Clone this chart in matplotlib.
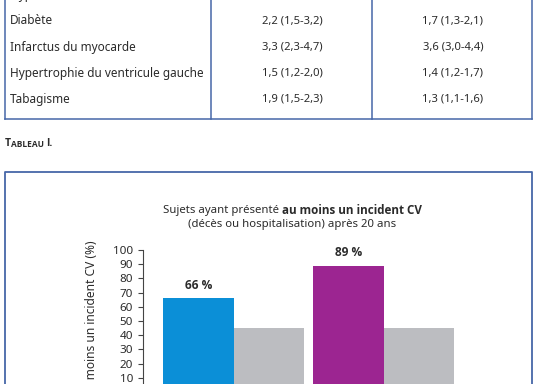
import matplotlib
matplotlib.use("Agg")
import matplotlib.pyplot as plt

plt.rcParams['font.family'] = ['Noto Sans', 'DejaVu Sans']
BOLD = ['Open Sans', 'DejaVu Sans']

W, H = 538, 384
DPI = 100
TXT = "#2b2b2b"
FRAME = "#4667a8"

# table rows (top row is cut by the page crop)
row_labels = ["Hypertension artérielle", "Diabète", "Infarctus du myocarde",
              "Hypertrophie du ventricule gauche", "Tabagisme"]
col_a = ["1,7 (1,5-2,0)", "2,2 (1,5-3,2)", "3,3 (2,3-4,7)", "1,5 (1,2-2,0)", "1,9 (1,5-2,3)"]
col_b = ["1,7 (1,5-1,9)", "1,7 (1,3-2,1)", "3,6 (3,0-4,4)", "1,4 (1,2-1,7)", "1,3 (1,1-1,6)"]

# bar chart
bar_values = [66, 45, 89, 45]
bar_labels = ["66 %", None, "89 %", None]
bar_colors = ["#0b8fd7", "#bcbdc1", "#9c2591", "#bcbdc1"]
y_ticks = [10, 20, 30, 40, 50, 60, 70, 80, 90, 100]
title_1 = ["Sujets ayant présenté ", "au moins un incident CV"]
title_2 = "(décès ou hospitalisation) après 20 ans"
y_label = "Sujets ayant présenté au moins un incident CV (%)"

fig = plt.figure(figsize=(W / DPI, H / DPI), dpi=DPI)

# page layer in pixel coords
ax0 = fig.add_axes([0, 0, 1, 1])
ax0.set_xlim(0, W)
ax0.set_ylim(H, 0)
ax0.axis("off")

# table frame
for x in [5, 211, 372, 532]:
    ax0.plot([x, x], [0, 119], color=FRAME, lw=1.1)
ax0.plot([5, 532], [119, 119], color=FRAME, lw=1.1)

for i, (lab, a, b) in enumerate(zip(row_labels, col_a, col_b)):
    y = -5 + 26 * i
    ax0.text(10, y, lab, fontsize=8.5, color=TXT, va="center", ha="left")
    ax0.text(292, y, a, fontsize=8.1, color=TXT, va="center", ha="center")
    ax0.text(453, y, b, fontsize=8.1, color=TXT, va="center", ha="center")

# caption in small caps
t1 = ax0.text(5, 146, "T", fontsize=7.5, fontweight="bold", family=BOLD,
              color=TXT, va="baseline")
t2 = ax0.annotate("ABLEAU ", xy=(1, 0), xycoords=t1, fontsize=6.0, family=BOLD,
                  fontweight="bold", color=TXT, va="bottom")
ax0.annotate("I.", xy=(1, 0), xycoords=t2, fontsize=7.5, family=BOLD,
             fontweight="bold", color=TXT, va="bottom")

# figure box
ax0.plot([5, 5, 532, 532], [400, 172, 172, 400], color=FRAME, lw=1.3)

# title with bold part, centred
renderer = fig.canvas.get_renderer()
p1 = ax0.text(0, 211, title_1[0], fontsize=8.2, color=TXT, va="center")
p2 = ax0.text(0, 211, title_1[1], fontsize=8.4, color=TXT, va="center",
              fontweight="bold", family=BOLD)
w1 = p1.get_window_extent(renderer).width
w2 = p2.get_window_extent(renderer).width
x_start = 292 - (w1 + w2) / 2
p1.set_x(x_start)
p2.set_x(x_start + w1)
ax0.text(292, 224, title_2, fontsize=8.2, color=TXT, va="center", ha="center")

ax0.text(92, 240, y_label, fontsize=8.6, color=TXT, rotation=90, ha="center", va="top")

# bar axes
left_px, right_px = 143, 532
top_px, bottom_px = 250, 392
ax = fig.add_axes([left_px / W, (H - bottom_px) / H,
                   (right_px - left_px) / W, (bottom_px - top_px) / H])
ax.patch.set_alpha(0)

unit = 70.5
positions = [0, 1, 2.13, 3.13]
ax.bar(positions, bar_values, width=1.0, color=bar_colors)
for x, v, lab in zip(positions, bar_values, bar_labels):
    if lab:
        ax.annotate(lab, xy=(x, v), xytext=(0, 9.5), textcoords="offset points",
                    ha="center", va="center", fontsize=8.6, fontweight="bold",
                    family=BOLD, color=TXT)

ax.set_xlim(-(198.5 - left_px) / unit, (right_px - 198.5) / unit)
ax.set_ylim(0, 100)
ax.set_yticks(y_ticks)
ax.set_yticklabels([str(t) for t in y_ticks])
ax.tick_params(axis="y", length=3.6, width=0.8, color="#444444", pad=3.5,
               labelsize=8.4, labelcolor=TXT)
ax.set_xticks([])
for s in ["top", "right", "bottom"]:
    ax.spines[s].set_visible(False)
ax.spines["left"].set_color("#444444")
ax.spines["left"].set_linewidth(0.8)

fig.savefig("out.png", dpi=DPI)
